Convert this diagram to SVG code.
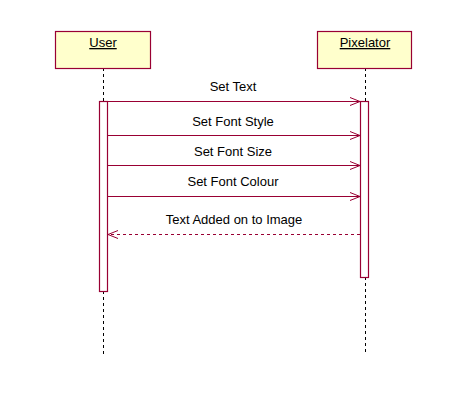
<svg xmlns="http://www.w3.org/2000/svg" width="461" height="415" viewBox="0 0 461 415">
<style>
.box{fill:#ffffcc;stroke:#990033;stroke-width:1.2}
.act{fill:#ffffff;stroke:#990033;stroke-width:1.2}
.life{stroke:#000;stroke-width:1;stroke-dasharray:3,3}
.msg{stroke:#990033;stroke-width:1;fill:none}
.ret{stroke:#990033;stroke-width:1;fill:none;stroke-dasharray:3,3}
text{font-family:"Liberation Sans",Arial,sans-serif;font-size:13px;fill:#000}
.name{text-decoration:underline}
</style>
<defs>
<marker id="open" markerWidth="12" markerHeight="10" refX="10" refY="5" orient="auto" markerUnits="userSpaceOnUse">
<path d="M0,1 L10,5 L0,9" fill="none" stroke="#990033" stroke-width="1"/>
</marker>
</defs>
<rect width="461" height="415" fill="#fff"/>
<g id="connectors">
<line class="life" x1="103.5" y1="68" x2="103.5" y2="101"/>
<line class="life" x1="103.5" y1="291" x2="103.5" y2="355"/>
<line class="life" x1="365.5" y1="68" x2="365.5" y2="101"/>
<line class="life" x1="365.5" y1="277" x2="365.5" y2="355"/>
<line class="msg" x1="107" y1="101.5" x2="360" y2="101.5" marker-end="url(#open)"/>
<text x="233" y="91" text-anchor="middle">Set Text</text>
<line class="msg" x1="107" y1="135.5" x2="360" y2="135.5" marker-end="url(#open)"/>
<text x="233" y="126" text-anchor="middle">Set Font Style</text>
<line class="msg" x1="107" y1="165.5" x2="360" y2="165.5" marker-end="url(#open)"/>
<text x="233" y="156" text-anchor="middle">Set Font Size</text>
<line class="msg" x1="107" y1="196.5" x2="360" y2="196.5" marker-end="url(#open)"/>
<text x="233" y="186" text-anchor="middle">Set Font Colour</text>
<line class="ret" x1="360" y1="234.5" x2="108" y2="234.5" marker-end="url(#open)"/>
<text x="234" y="224" text-anchor="middle">Text Added on to Image</text>
</g>
<g id="user">
<rect class="box" x="55.5" y="31.5" width="95" height="37"/>
<text class="name" x="103" y="47" text-anchor="middle">User</text>
<rect class="act" x="99.5" y="101.5" width="8" height="190"/>
</g>
<g id="pixelator">
<rect class="box" x="317.5" y="31.5" width="94" height="37"/>
<text class="name" x="365" y="47" text-anchor="middle">Pixelator</text>
<rect class="act" x="360.5" y="101.5" width="8" height="176"/>
</g>
</svg>
